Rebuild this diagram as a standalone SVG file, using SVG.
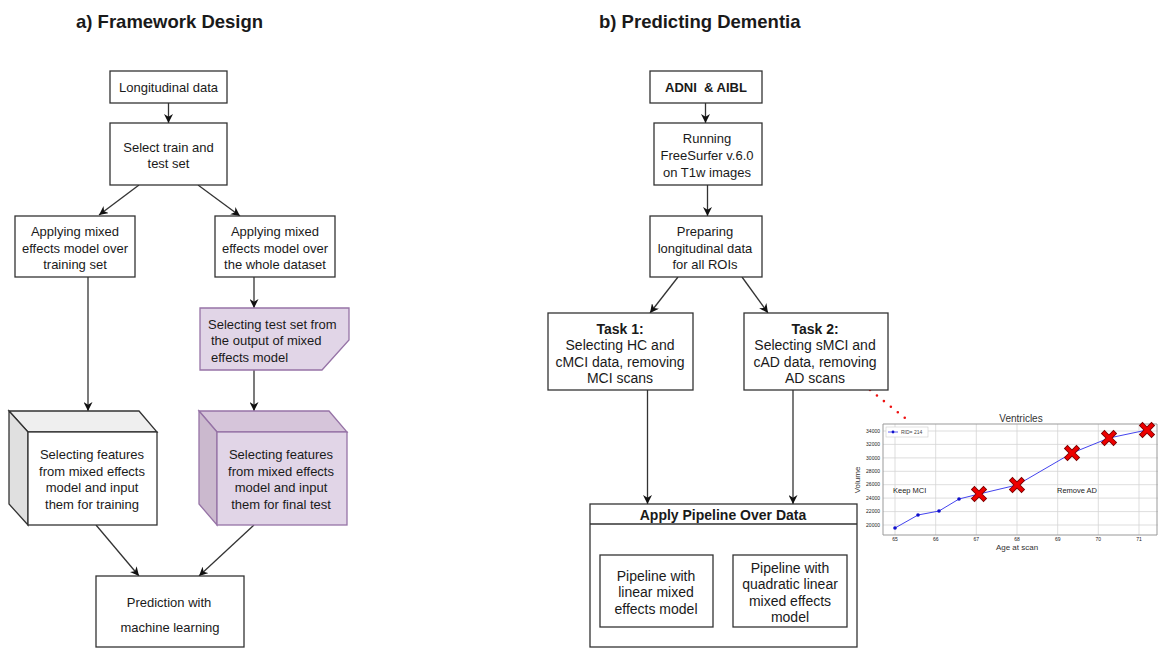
<svg xmlns="http://www.w3.org/2000/svg" width="1158" height="648" viewBox="0 0 1158 648">
<style>
text{font-family:"Liberation Sans",Arial,sans-serif;fill:#1a1a1a}
.t{font-size:13px;text-anchor:middle}
.t14{font-size:14px;text-anchor:middle}
.tl{font-size:13px}
.b{font-weight:bold}
.title{font-size:18.5px;font-weight:bold}
.box{fill:#fff;stroke:#333;stroke-width:1.3}
.pbox{fill:#e1d5e7;stroke:#9673a6;stroke-width:1.3}
.con{fill:none;stroke:#333;stroke-width:1.3}
.grid{stroke:#d4d4d4;stroke-width:0.8}
.tick{font-size:5px;fill:#444}
</style>
<defs>
<marker id="arr" viewBox="0 0 10 10" refX="10" refY="5" markerWidth="9" markerHeight="9" markerUnits="userSpaceOnUse" orient="auto">
<path d="M0,0 L10,5 L0,10 L3,5 Z" fill="#111"/>
</marker>
<g id="rx">
<path d="M-4.5,-4.5 L4.5,4.5 M-4.5,4.5 L4.5,-4.5" stroke="#7a0000" stroke-width="5.2" stroke-linecap="square"/>
<path d="M-4.5,-4.5 L4.5,4.5 M-4.5,4.5 L4.5,-4.5" stroke="#ee0000" stroke-width="3.4" stroke-linecap="square"/>
</g>
</defs>

<text class="title" x="76" y="28">a) Framework Design</text>
<text class="title" x="599" y="28">b) Predicting Dementia</text>

<g id="connectors">
<line class="con" x1="168.5" y1="103" x2="168.5" y2="123" marker-end="url(#arr)"/>
<line class="con" x1="139" y1="185" x2="99" y2="215" marker-end="url(#arr)"/>
<line class="con" x1="198" y1="185" x2="240" y2="216" marker-end="url(#arr)"/>
<line class="con" x1="88" y1="277" x2="88" y2="411" marker-end="url(#arr)"/>
<line class="con" x1="254" y1="277" x2="254" y2="308" marker-end="url(#arr)"/>
<line class="con" x1="254" y1="370" x2="254" y2="411" marker-end="url(#arr)"/>
<line class="con" x1="96" y1="525" x2="139" y2="576" marker-end="url(#arr)"/>
<line class="con" x1="254" y1="525" x2="199" y2="576" marker-end="url(#arr)"/>
<line class="con" x1="705.5" y1="103" x2="705.5" y2="123" marker-end="url(#arr)"/>
<line class="con" x1="707.5" y1="185" x2="707.5" y2="216" marker-end="url(#arr)"/>
<line class="con" x1="678" y1="277" x2="650" y2="313" marker-end="url(#arr)"/>
<line class="con" x1="742" y1="277" x2="768" y2="313" marker-end="url(#arr)"/>
<line class="con" x1="647.5" y1="390" x2="647.5" y2="504" marker-end="url(#arr)"/>
<line class="con" x1="793" y1="390" x2="793" y2="504" marker-end="url(#arr)"/>
<line x1="870" y1="390" x2="910" y2="422" stroke="#ee1111" stroke-width="2.6" stroke-linecap="round" stroke-dasharray="0 8.9"/>
</g>

<g id="longitudinal">
<rect class="box" x="110" y="71" width="117" height="32"/>
<text class="t" x="168.5" y="92">Longitudinal data</text>
</g>
<g id="select-train">
<rect class="box" x="110" y="123" width="117" height="62"/>
<text class="t" x="168.5" y="152">Select train and</text>
<text class="t" x="168.5" y="168">test set</text>
</g>
<g id="apply-train">
<rect class="box" x="15" y="216" width="120" height="61"/>
<text class="t" x="75" y="236">Applying mixed</text>
<text class="t" x="75" y="253">effects model over</text>
<text class="t" x="75" y="269">training set</text>
</g>
<g id="apply-whole">
<rect class="box" x="215" y="216" width="120" height="61"/>
<text class="t" x="275" y="236">Applying mixed</text>
<text class="t" x="275" y="253">effects model over</text>
<text class="t" x="275" y="269">the whole dataset</text>
</g>
<g id="select-test">
<path class="pbox" d="M200,308 H349 V340 L322,370 H200 Z"/>
<text class="tl" x="208" y="329">Selecting test set from</text>
<text class="tl" x="211" y="345">the output of mixed</text>
<text class="tl" x="211" y="362">effects model</text>
</g>
<g id="features-train">
<path d="M9,411 H139 L157,432 H28 Z" fill="#efefef" stroke="#333" stroke-width="1.3"/>
<path d="M9,411 L28,432 V525 L9,504 Z" fill="#e0e0e0" stroke="#333" stroke-width="1.3"/>
<rect class="box" x="28" y="432" width="129" height="93"/>
<text class="t" x="92" y="459">Selecting features</text>
<text class="t" x="92" y="476">from mixed effects</text>
<text class="t" x="92" y="492">model and input</text>
<text class="t" x="92" y="509">them for training</text>
</g>
<g id="features-test">
<path d="M199,411 H329 L347,432 H217 Z" fill="#d6c5da" stroke="#9673a6" stroke-width="1.3"/>
<path d="M199,411 L217,432 V525 L199,504 Z" fill="#cbb9ce" stroke="#9673a6" stroke-width="1.3"/>
<rect class="pbox" x="217" y="432" width="130" height="93"/>
<text class="t" x="281" y="459">Selecting features</text>
<text class="t" x="281" y="476">from mixed effects</text>
<text class="t" x="281" y="492">model and input</text>
<text class="t" x="281" y="509">them for final test</text>
</g>
<g id="prediction">
<rect class="box" x="96" y="576" width="148" height="71"/>
<text class="t" x="169" y="607">Prediction with</text>
<text class="t" x="170" y="632">machine learning</text>
</g>

<g id="adni">
<rect class="box" x="650" y="71" width="112" height="32"/>
<text class="t b" x="706" y="92" xml:space="preserve">ADNI  &amp; AIBL</text>
</g>
<g id="freesurfer">
<rect class="box" x="654" y="123" width="108" height="62"/>
<text class="t" x="707" y="143">Running</text>
<text class="t" x="707" y="160">FreeSurfer v.6.0</text>
<text class="t" x="707" y="177">on T1w images</text>
</g>
<g id="preparing">
<rect class="box" x="650" y="216" width="112" height="61"/>
<text class="t" x="705" y="236">Preparing</text>
<text class="t" x="705" y="253">longitudinal data</text>
<text class="t" x="705" y="269">for all ROIs</text>
</g>
<g id="task1">
<rect class="box" x="548" y="313" width="145" height="77"/>
<text class="t14 b" x="620" y="334">Task 1:</text>
<text class="t14" x="620" y="350">Selecting HC and</text>
<text class="t14" x="620" y="367">cMCI data, removing</text>
<text class="t14" x="620" y="383">MCI scans</text>
</g>
<g id="task2">
<rect class="box" x="744" y="313" width="144" height="77"/>
<text class="t14 b" x="815" y="334">Task 2:</text>
<text class="t14" x="815" y="350">Selecting sMCI and</text>
<text class="t14" x="815" y="367">cAD data, removing</text>
<text class="t14" x="815" y="383">AD scans</text>
</g>
<g id="apply-pipeline">
<rect class="box" x="590" y="504" width="267" height="143"/>
<line x1="590" y1="524" x2="857" y2="524" stroke="#333" stroke-width="1.3"/>
<text class="t14 b" x="723" y="520">Apply Pipeline Over Data</text>
</g>
<g id="pipeline-linear">
<rect class="box" x="600" y="555" width="113" height="72"/>
<text class="t14" x="656" y="581">Pipeline with</text>
<text class="t14" x="656" y="597">linear mixed</text>
<text class="t14" x="656" y="614">effects model</text>
</g>
<g id="pipeline-quadratic">
<rect class="box" x="733" y="555" width="114" height="72"/>
<text class="t14" x="790" y="573">Pipeline with</text>
<text class="t14" x="790" y="589">quadratic linear</text>
<text class="t14" x="790" y="606">mixed effects</text>
<text class="t14" x="790" y="622">model</text>
</g>

<g id="chart">
<rect x="883" y="424" width="274" height="111" fill="#fff"/>
<g class="grid">
<line x1="895" y1="424" x2="895" y2="535"/>
<line x1="935.7" y1="424" x2="935.7" y2="535"/>
<line x1="976.3" y1="424" x2="976.3" y2="535"/>
<line x1="1017" y1="424" x2="1017" y2="535"/>
<line x1="1057.7" y1="424" x2="1057.7" y2="535"/>
<line x1="1098.3" y1="424" x2="1098.3" y2="535"/>
<line x1="1139" y1="424" x2="1139" y2="535"/>
<line x1="883" y1="431" x2="1158" y2="431"/>
<line x1="883" y1="444.4" x2="1158" y2="444.4"/>
<line x1="883" y1="457.9" x2="1158" y2="457.9"/>
<line x1="883" y1="471.3" x2="1158" y2="471.3"/>
<line x1="883" y1="484.7" x2="1158" y2="484.7"/>
<line x1="883" y1="498.1" x2="1158" y2="498.1"/>
<line x1="883" y1="511.6" x2="1158" y2="511.6"/>
<line x1="883" y1="525" x2="1158" y2="525"/>
</g>
<path d="M883,424 H1157 V535 H883 Z" fill="none" stroke="#999" stroke-width="1"/>
<text x="1021" y="422" style="font-size:10px;text-anchor:middle;fill:#333">Ventricles</text>
<g class="tick" style="text-anchor:end">
<text x="880" y="433">34000</text>
<text x="880" y="446">32000</text>
<text x="880" y="460">30000</text>
<text x="880" y="473">28000</text>
<text x="880" y="486">26000</text>
<text x="880" y="500">24000</text>
<text x="880" y="513">22000</text>
<text x="880" y="527">20000</text>
</g>
<g class="tick" style="text-anchor:middle">
<text x="895" y="541">65</text>
<text x="935.7" y="541">66</text>
<text x="976.3" y="541">67</text>
<text x="1017" y="541">68</text>
<text x="1057.7" y="541">69</text>
<text x="1098.3" y="541">70</text>
<text x="1139" y="541">71</text>
</g>
<text x="1017" y="550" style="font-size:8px;text-anchor:middle;fill:#333">Age at scan</text>
<text x="0" y="0" transform="translate(860,480) rotate(-90)" style="font-size:8px;text-anchor:middle;fill:#333">Volume</text>
<rect x="886" y="427" width="42" height="10" fill="#fff" stroke="#ccc" stroke-width="0.6"/>
<line x1="888" y1="432" x2="898" y2="432" stroke="#3333ee" stroke-width="0.8"/>
<circle cx="893" cy="432" r="1.4" fill="#1111cc"/>
<text x="901" y="434" style="font-size:5px;fill:#444">RID= 214</text>
<polyline points="895,528 918,515 939,511 959,499 979,494 1017,485 1072,453 1109,438 1147,430" fill="none" stroke="#4444ee" stroke-width="1"/>
<g fill="#1111cc">
<circle cx="895" cy="528" r="1.8"/>
<circle cx="918" cy="515" r="1.8"/>
<circle cx="939" cy="511" r="1.8"/>
<circle cx="959" cy="499" r="1.8"/>
</g>
<use href="#rx" x="979" y="494"/>
<use href="#rx" x="1017" y="485"/>
<use href="#rx" x="1072" y="453"/>
<use href="#rx" x="1109" y="438"/>
<use href="#rx" x="1147" y="430"/>
<text x="893" y="493" style="font-size:7.5px;fill:#222">Keep MCI</text>
<text x="1057" y="493" style="font-size:7.5px;fill:#222">Remove AD</text>
</g>
</svg>
